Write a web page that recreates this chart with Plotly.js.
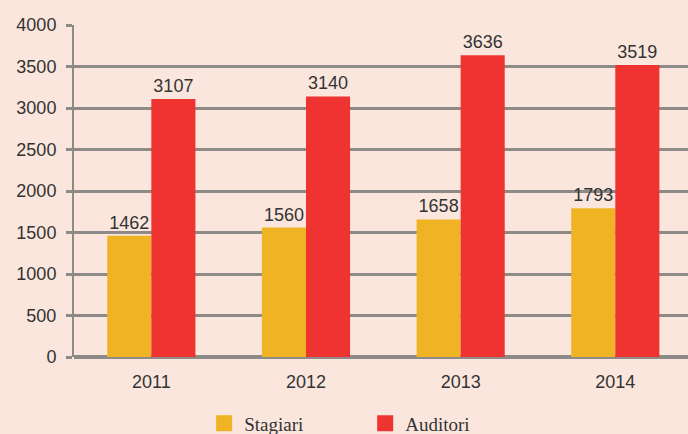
<!DOCTYPE html>
<html>
<head>
<meta charset="utf-8">
<script src="https://cdn.plot.ly/plotly-3.0.1.min.js"></script>
<style>html,body{margin:0;padding:0;background:#fbe6dd;}</style>
</head>
<body>
<div id="chart" style="width:688px;height:434px;"></div>
<script>
const years = ['2011', '2012', '2013', '2014'];
const stagiari = [1462, 1560, 1658, 1793];
const auditori = [3107, 3140, 3636, 3519];
const yTicks = [0, 500, 1000, 1500, 2000, 2500, 3000, 3500, 4000];
const seriesNames = ['Stagiari', 'Auditori'];
const seriesColors = ['#f0b323', '#ee3330'];

const labelFont = {family: 'Liberation Sans, Arial, sans-serif', size: 18, color: '#333'};
const traces = [
  {type: 'bar', name: seriesNames[0], x: years, y: stagiari, text: stagiari.map(String),
   textposition: 'outside', cliponaxis: false, textfont: labelFont,
   marker: {color: seriesColors[0]}, showlegend: false},
  {type: 'bar', name: seriesNames[1], x: years, y: auditori, text: auditori.map(String),
   textposition: 'outside', cliponaxis: false, textfont: labelFont,
   marker: {color: seriesColors[1]}, showlegend: false},
  // legend entries with larger square swatches
  {type: 'scatter', mode: 'markers', name: seriesNames[0], x: [null], y: [null],
   marker: {symbol: 'square', size: 16, color: seriesColors[0]}, hoverinfo: 'skip'},
  {type: 'scatter', mode: 'markers', name: seriesNames[1], x: [null], y: [null],
   marker: {symbol: 'square', size: 16, color: seriesColors[1]}, hoverinfo: 'skip'}
];

const layout = {
  width: 688, height: 434,
  paper_bgcolor: '#fbe6dd', plot_bgcolor: '#fbe6dd',
  margin: {l: 74, r: 0, t: 25, b: 77, autoexpand: false},
  barmode: 'group', bargap: 0.43, bargroupgap: 0,
  font: {family: 'Liberation Sans, Arial, sans-serif', size: 18, color: '#333'},
  xaxis: {type: 'category', range: [-0.5, 3.47], showgrid: false, ticks: '',
          ticklabelstandoff: 12,
          tickfont: {size: 18, color: '#333'}, showline: false, zeroline: false},
  yaxis: {range: [0, 4000], tickvals: yTicks, ticktext: yTicks.map(String),
          showgrid: true, gridcolor: '#8d8a88', gridwidth: 3,
          showline: true, linecolor: '#8d8a88', linewidth: 2,
          ticks: 'outside', ticklen: 6, tickwidth: 3, tickcolor: '#8d8a88',
          ticklabelstandoff: 6,
          zeroline: true, zerolinecolor: '#8d8a88', zerolinewidth: 4,
          tickfont: {size: 18, color: '#333'}, fixedrange: true},
  showlegend: true,
  legend: {orientation: 'h', x: 0.212, xanchor: 'left', y: -0.20, yanchor: 'middle',
           font: {family: 'Liberation Serif, DejaVu Serif, serif', size: 19, color: '#333'},
           bgcolor: 'rgba(0,0,0,0)', traceorder: 'normal', entrywidth: 116, entrywidthmode: 'pixels'}
};

Plotly.newPlot('chart', traces, layout, {displayModeBar: false, staticPlot: true});
</script>
</body>
</html>
